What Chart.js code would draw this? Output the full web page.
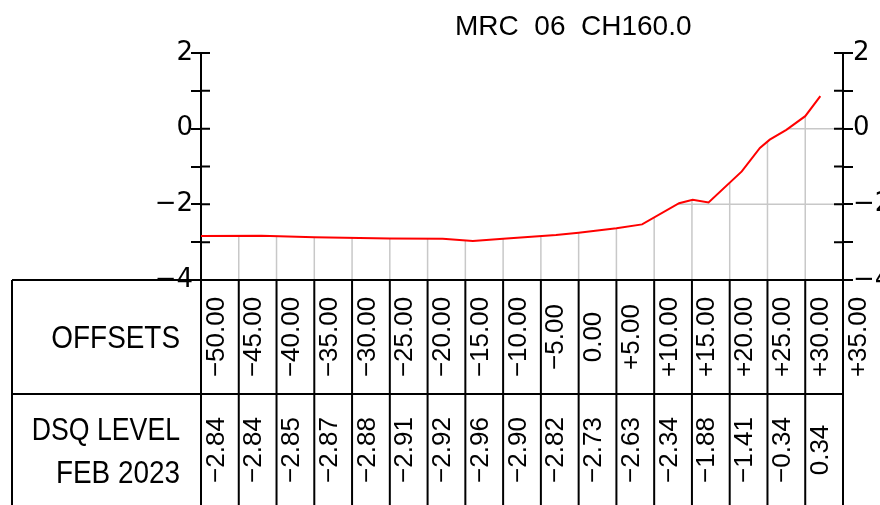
<!DOCTYPE html>
<html>
<head>
<meta charset="utf-8">
<script src="https://cdn.jsdelivr.net/npm/chart.js@4.4.1/dist/chart.umd.min.js"></script>
<style>
  body { margin: 0; background: #fff; }
  #wrap { width: 880px; height: 505px; position: relative; }
</style>
</head>
<body>
<div id="wrap"><canvas id="myChart"></canvas></div>
<script>
// table offsets (one column per offset, last one only labelled)
const offsets = [-50, -45, -40, -35, -30, -25, -20, -15, -10, -5, 0, 5, 10, 15, 20, 25, 30, 35];
// DSQ level written in the table, offsets -50 .. +30
const dsqLevels = [-2.84, -2.84, -2.85, -2.87, -2.88, -2.91, -2.92, -2.96, -2.90, -2.82, -2.73, -2.63, -2.34, -1.88, -1.41, -0.34, 0.34];
const profileX = [-50, -42, -35, -25, -18, -14, -10, -3, 0, 5, 8.4, 13.3, 15.1, 17.2, 21.6, 24.0, 25.3, 27.5, 30.0, 32.0];
const profileY = [-2.84, -2.83, -2.87, -2.90, -2.91, -2.97, -2.91, -2.81, -2.75, -2.63, -2.53, -1.97, -1.88, -1.95, -1.13, -0.51, -0.29, -0.03, 0.33, 0.86];
const yTicks = [-4, -3, -2, -1, 0, 1, 2];
const gridLevels = [-2, 0];

const title = 'MRC  06  CH160.0';
const rowHeads = ['OFFSETS', 'DSQ LEVEL', 'FEB 2023'];

function fmtOffset(v) {
    if (v > 0) return '+' + v.toFixed(2);
    if (v < 0) return '\u2212' + Math.abs(v).toFixed(2);
    return '0.00';
}
function fmtLevel(v) {
    return v < 0 ? '\u2212' + Math.abs(v).toFixed(2) : v.toFixed(2);
}

let points = profileX.map(function(x, i) { return { x: x, y: profileY[i] }; });

// light grid only under the ground line
let underGrid = {
    id: 'underGrid',
    beforeDatasetsDraw: function(chart) {
        let ctx = chart.ctx;
        let area = chart.chartArea;
        let xs = chart.scales.x, ys = chart.scales.y;
        let pts = chart.getDatasetMeta(0).data;
        ctx.save();
        ctx.beginPath();
        ctx.moveTo(pts[0].x, area.bottom);
        pts.forEach(function(p) { ctx.lineTo(p.x, p.y); });
        ctx.lineTo(area.right, pts[pts.length - 1].y);
        ctx.lineTo(area.right, area.bottom);
        ctx.closePath();
        ctx.clip();
        ctx.strokeStyle = '#c8c8c8';
        ctx.lineWidth = 1.5;
        offsets.slice(1, -1).forEach(function(o) {
            let px = xs.getPixelForValue(o);
            ctx.beginPath();
            ctx.moveTo(px, area.top);
            ctx.lineTo(px, area.bottom);
            ctx.stroke();
        });
        gridLevels.forEach(function(l) {
            let py = ys.getPixelForValue(l);
            ctx.beginPath();
            ctx.moveTo(area.left, py);
            ctx.lineTo(area.right, py);
            ctx.stroke();
        });
        ctx.restore();
    }
};

// table, inner ticks and title
let sheet = {
    id: 'sheet',
    afterDraw: function(chart) {
        let ctx = chart.ctx;
        let area = chart.chartArea;
        let xs = chart.scales.x, ys = chart.scales.y;
        let H = chart.height;
        let rowSplit = 394;
        let tableLeft = 12;
        ctx.save();
        ctx.strokeStyle = '#000';
        ctx.lineWidth = 2;

        // inner part of the axis ticks
        yTicks.forEach(function(t) {
            let py = ys.getPixelForValue(t);
            ctx.beginPath();
            ctx.moveTo(area.left, py); ctx.lineTo(area.left + 9, py);
            ctx.moveTo(area.right, py); ctx.lineTo(area.right - 9, py);
            ctx.stroke();
        });

        // table lines
        ctx.beginPath();
        ctx.moveTo(tableLeft, area.bottom); ctx.lineTo(area.right, area.bottom);
        ctx.moveTo(tableLeft, rowSplit); ctx.lineTo(area.right, rowSplit);
        ctx.moveTo(tableLeft, area.bottom); ctx.lineTo(tableLeft, H);
        offsets.forEach(function(o) {
            let px = xs.getPixelForValue(o);
            ctx.moveTo(px, area.bottom); ctx.lineTo(px, H);
        });
        ctx.stroke();

        // rotated numbers
        ctx.fillStyle = '#000';
        ctx.font = '26px "Liberation Sans", Arial, sans-serif';
        ctx.textBaseline = 'alphabetic';
        ctx.textAlign = 'center';
        function vText(str, cx, cy) {
            ctx.save();
            ctx.translate(cx + 9.5, cy);
            ctx.rotate(-Math.PI / 2);
            ctx.fillText(str, 0, 0);
            ctx.restore();
        }
        offsets.forEach(function(o) {
            vText(fmtOffset(o), xs.getPixelForValue(o) + 13, (area.bottom + rowSplit) / 2);
        });
        dsqLevels.forEach(function(v, i) {
            vText(fmtLevel(v), xs.getPixelForValue(offsets[i]) + 13, 450);
        });

        // row heads
        ctx.font = '31px "Liberation Sans", Arial, sans-serif';
        ctx.textAlign = 'right';
        function head(str, y, sx) {
            ctx.save();
            ctx.translate(180, y);
            ctx.scale(sx, 1);
            ctx.fillText(str, 0, 0);
            ctx.restore();
        }
        head(rowHeads[0], 348, 0.9);
        head(rowHeads[1], 440, 0.86);
        head(rowHeads[2], 483, 0.9);

        // title
        ctx.font = '28px "Liberation Sans", Arial, sans-serif';
        ctx.textAlign = 'left';
        ctx.fillText(title, 455, 35);
        ctx.restore();
    }
};

function axisLabel(value) {
    if (value % 2 !== 0) return '';
    return value < 0 ? '\u2212' + Math.abs(value) : String(value);
}

let yAxisBase = {
    type: 'linear',
    min: -4,
    max: 2,
    ticks: {
        stepSize: 1,
        padding: -2,
        color: '#000',
        font: { family: 'DejaVu Sans', size: 26 },
        callback: axisLabel
    },
    grid: { drawOnChartArea: false, color: '#000', lineWidth: 2, tickLength: 10 },
    border: { color: '#000', width: 2 }
};

let ctx = document.getElementById('myChart').getContext('2d');
let myChart = new Chart(ctx, {
    type: 'line',
    data: {
        datasets: [{
            data: points,
            borderColor: '#ff0000',
            borderWidth: 2,
            pointRadius: 0,
            tension: 0,
            fill: false
        }]
    },
    options: {
        responsive: true,
        maintainAspectRatio: false,
        animation: false,
        layout: { padding: { top: 53, bottom: 225, left: 0, right: 0 } },
        plugins: { legend: { display: false }, tooltip: { enabled: false } },
        scales: {
            x: { type: 'linear', min: -50, max: 35, display: false },
            y: Object.assign({}, yAxisBase, {
                position: 'left',
                afterFit: function(s) { s.width = 201; }
            }),
            y2: Object.assign({}, yAxisBase, {
                position: 'right',
                ticks: Object.assign({}, yAxisBase.ticks, { padding: 0 }),
                afterFit: function(s) { s.width = 37; }
            })
        }
    },
    plugins: [underGrid, sheet]
});
</script>
</body>
</html>
